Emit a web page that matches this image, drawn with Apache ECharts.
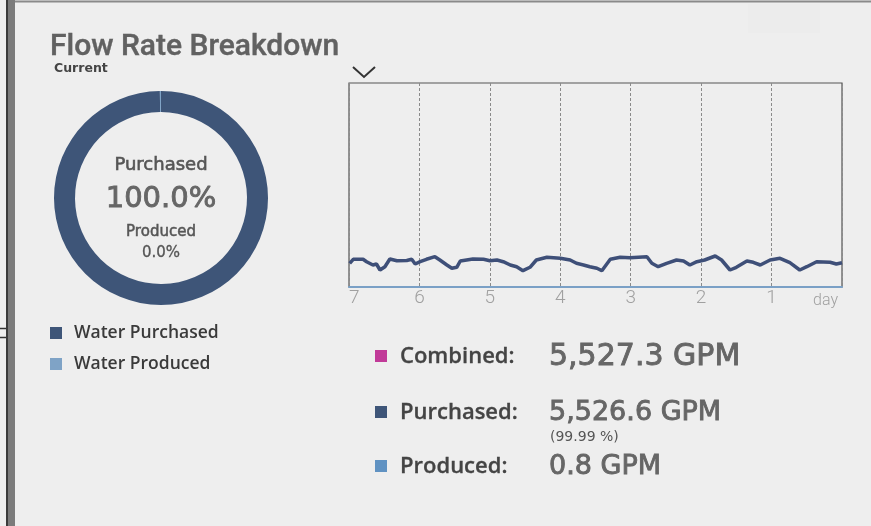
<!DOCTYPE html>
<html>
<head>
<meta charset="utf-8">
<title>Flow Rate Breakdown</title>
<script src="https://cdn.jsdelivr.net/npm/echarts@6/dist/echarts.min.js"></script>
<style>
  html, body { margin: 0; padding: 0; background: #eeeeee; }
  #chart { width: 871px; height: 526px; }
</style>
</head>
<body>
<div id="chart"></div>
<script>
// current split (donut + legend)
const sourceNames = ["Water Purchased", "Water Produced"];
const sourceGpm = [5526.6, 0.8];
const sourceColors = ["#3e5578", "#7fa3c6"];

// summary rows under the trend
const statLabels = ["Combined:", "Purchased:", "Produced:"];
const statGpm = [5527.3, 5526.6, 0.8];
const statColors = ["#c13a98", "#3e5578", "#6092c2"];

// last 7 days trend (days ago -> GPM)
const dayUnit = "day";
const daysAgo = [
  6.99, 6.94, 6.80, 6.75, 6.66, 6.61, 6.56, 6.49, 6.42, 6.32,
  6.18, 6.11, 6.06, 5.99, 5.90, 5.78, 5.71, 5.61, 5.54, 5.47,
  5.42, 5.24, 5.09, 5.00, 4.90, 4.81, 4.71, 4.62, 4.53, 4.43,
  4.34, 4.19, 4.00, 3.86, 3.77, 3.67, 3.58, 3.48, 3.41, 3.29,
  3.15, 3.01, 2.77, 2.70, 2.61, 2.49, 2.35, 2.25, 2.16, 2.06,
  1.95, 1.80, 1.71, 1.59, 1.50, 1.35, 1.26, 1.16, 1.02, 0.88,
  0.74, 0.60, 0.50, 0.36, 0.17, 0.08, 0.00
];
const flowGpm = [
  5228, 6111, 6111, 5581, 4853, 5074, 3750, 4478, 6177, 5802,
  5846, 6111, 5074, 5581, 6111, 6684, 5956, 4853, 4125, 4346,
  5736, 6177, 6111, 5802, 5956, 5581, 4853, 4478, 3596, 4346,
  5956, 6552, 6331, 5956, 5228, 4853, 4478, 4125, 3596, 6111,
  6552, 6464, 6684, 5228, 4478, 5228, 5956, 5736, 4853, 5581,
  5956, 6839, 5956, 3750, 4346, 5736, 5449, 4853, 5956, 6331,
  5361, 3750, 4478, 5581, 5449, 5074, 5361
];
const flowMax = 45000;

const FONT = "DejaVu Sans";
const LABEL_FONT = "Open Sans";

let chart = echarts.init(document.getElementById("chart"), null, { renderer: "canvas" });

let total = sourceGpm[0] + sourceGpm[1];
let purchasedPct = (sourceGpm[0] / total) * 100;
let producedPct = (sourceGpm[1] / total) * 100;

function gpm(v) {
  return v.toLocaleString("en-US", { minimumFractionDigits: 1, maximumFractionDigits: 1 }) + " GPM";
}

// heavier text: fill + thin stroke of same colour
function txt(x, y, text, font, color, align, heavy) {
  let style = { text: text, font: font, fill: color, textAlign: align || "left", textVerticalAlign: "middle" };
  if (heavy) {
    style.stroke = color;
    style.lineWidth = heavy;
  }
  return { type: "text", x: x, y: y, style: style, silent: true };
}

// frame + texts
let graphics = [
  { type: "rect", shape: { x: 6, y: 0, width: 2, height: 526 }, style: { fill: "#3b3b3b" }, silent: true },
  { type: "rect", shape: { x: 8, y: 0, width: 7, height: 526 }, style: { fill: "#7b7b7b" }, silent: true },
  { type: "line", shape: { x1: 15, y1: 1.5, x2: 871, y2: 1.5 }, style: { stroke: "#8a8a8a", lineWidth: 2 }, silent: true },
  { type: "line", shape: { x1: 0, y1: 328.5, x2: 6, y2: 328.5 }, style: { stroke: "#333", lineWidth: 1.5 }, silent: true },
  { type: "line", shape: { x1: 0, y1: 337.5, x2: 6, y2: 337.5 }, style: { stroke: "#333", lineWidth: 1.5 }, silent: true },
  { type: "rect", shape: { x: 748, y: 4, width: 72, height: 29 }, style: { fill: "#ececec" }, silent: true },
  // chevron over the trend
  { type: "polyline", shape: { points: [[353, 67], [364, 77], [375, 67]] }, style: { stroke: "#333", lineWidth: 2, fill: null }, silent: true },

  txt(50, 47, "Flow Rate Breakdown", "500 30px Roboto", "#616161", "left", 0.4),
  txt(54, 69, "Current", "bold 12.5px '" + FONT + "'", "#444"),

  // donut centre
  txt(161, 165, "Purchased", "18px '" + FONT + "'", "#555", "center", 0.6),
  txt(161, 199, purchasedPct.toFixed(1) + "%", "29px '" + FONT + "'", "#666", "center", 0.9),
  txt(161, 232, "Produced", "15px '" + FONT + "'", "#555", "center", 0.5),
  txt(161, 253, producedPct.toFixed(1) + "%", "15px '" + FONT + "'", "#555", "center", 0.3),
];

// summary rows
let rowY = [356, 412, 466];
let valueSize = [30, 27, 27];
statLabels.forEach(function (label, i) {
  graphics.push({ type: "rect", shape: { x: 375, y: rowY[i] - 6, width: 12, height: 12 }, style: { fill: statColors[i] }, silent: true });
  graphics.push(txt(400, rowY[i] + 1, label, "600 22px '" + LABEL_FONT + "'", "#444", "left", 0.3));
  graphics.push(txt(549, rowY[i] + 1, gpm(statGpm[i]), valueSize[i] + "px '" + FONT + "'", "#666", "left", 0.9));
});
graphics.push(txt(550, 437, "(" + purchasedPct.toFixed(2) + " %)", "14px '" + FONT + "'", "#555"));

let trend = daysAgo.map(function (d, i) { return [d, flowGpm[i]]; });

chart.setOption({
  backgroundColor: "#eeeeee",
  animation: false,
  legend: {
    orient: "vertical",
    left: 45,
    top: 319,
    itemWidth: 12,
    itemHeight: 12,
    itemGap: 13,
    icon: "rect",
    selectedMode: false,
    data: sourceNames,
    textStyle: {
      fontFamily: LABEL_FONT,
      fontWeight: 600,
      fontSize: 17.5,
      color: "#3a3a3a",
      padding: [0, 0, 0, 7],
    },
  },
  grid: {
    left: 349,
    top: 83,
    width: 493,
    height: 204,
    show: true,
    borderColor: "#555555",
    borderWidth: 1.2,
  },
  xAxis: {
    type: "value",
    min: 0,
    max: 7,
    interval: 1,
    inverse: true,
    axisLine: { show: true, lineStyle: { color: "#7aa0c6", width: 2 } },
    axisTick: { show: false },
    splitLine: { show: true, lineStyle: { color: "#8a8a8a", type: [3, 2], width: 1 } },
    axisLabel: {
      color: "#a0a0a0",
      fontFamily: "Roboto",
      fontWeight: 300,
      fontSize: 19,
      margin: 2,
      alignMinLabel: "right",
      alignMaxLabel: "left",
      formatter: function (v) { return v === 0 ? "{u|" + dayUnit + "}" : String(v); },
      rich: {
        u: { fontFamily: "Roboto", fontSize: 16, color: "#a0a0a0", padding: [4, 4, 0, 0] },
      },
    },
  },
  yAxis: {
    type: "value",
    min: 0,
    max: flowMax,
    show: false,
    splitLine: { show: false },
  },
  series: [
    {
      name: "Flow",
      type: "line",
      data: trend,
      showSymbol: false,
      silent: true,
      lineStyle: { color: "#3e4f78", width: 3.5 },
    },
    {
      name: "Current split",
      type: "pie",
      center: [161, 198],
      radius: [86, 107],
      startAngle: 90,
      minAngle: 0.6,
      silent: true,
      label: { show: false },
      labelLine: { show: false },
      emphasis: { disabled: true },
      data: sourceNames.map(function (n, i) {
        return { name: n, value: sourceGpm[i], itemStyle: { color: sourceColors[i] } };
      }),
    },
  ],
  graphic: graphics,
});
</script>
</body>
</html>
